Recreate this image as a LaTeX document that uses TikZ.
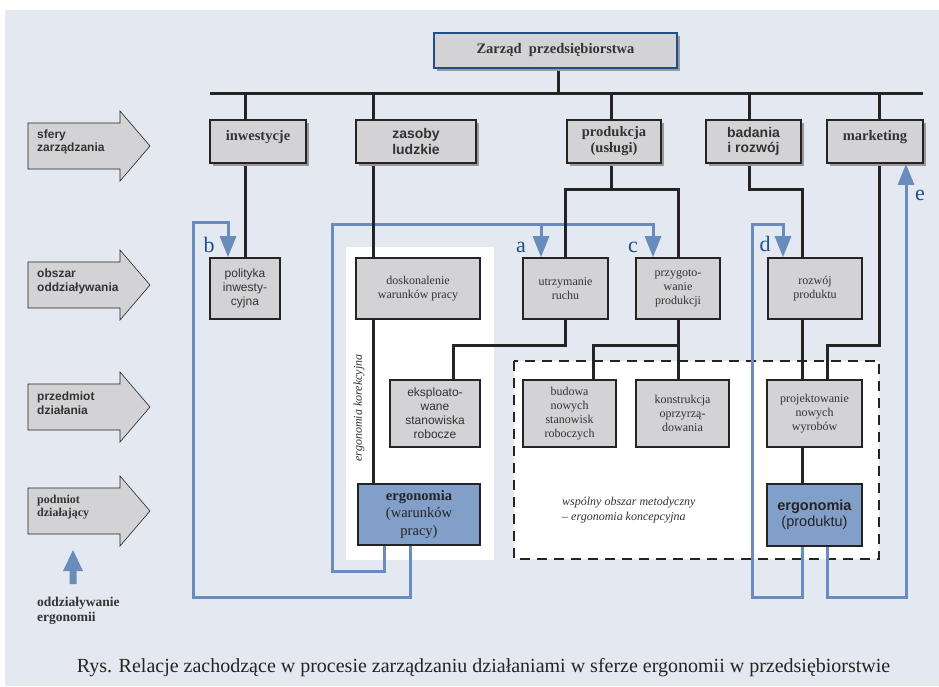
\documentclass[tikz,border=0pt]{standalone}
\usepackage{fontspec}
\setmainfont{Liberation Serif}
\setsansfont{Liberation Sans}
\usetikzlibrary{arrows.meta,shadows}

\definecolor{tlo}{HTML}{E4E8F0}
\definecolor{szary}{HTML}{D3D3D5}
\definecolor{ramka}{HTML}{262324}
\definecolor{granat}{HTML}{1F4F8A}
\definecolor{niebieski}{HTML}{6A8CBD}
\definecolor{ergo}{HTML}{829FC9}
\definecolor{litera}{HTML}{1D4F8E}
\definecolor{tekst}{HTML}{333333}

\pgfdeclarelayer{spod}
\pgfdeclarelayer{linie}
\pgfsetlayers{spod,linie,main}

\tikzset{
  sfera/.style={draw=ramka, fill=szary, line width=1.8pt, inner sep=0pt, align=center, text=tekst,
    drop shadow={shadow xshift=3pt, shadow yshift=-3pt, opacity=1, fill=black!40},
    minimum height=43pt, font=\fontsize{14.5}{16}\selectfont\bfseries},
  gora/.style={text depth=13pt},
  pole/.style={draw=ramka, fill=szary, line width=1.6pt, inner sep=0pt, align=center, text=tekst,
    font=\fontsize{12}{14}\selectfont},
  ergbox/.style={draw=ramka, fill=ergo, line width=1.8pt, inner sep=0pt, align=center, text=ramka,
    font=\fontsize{14.5}{17.5}\selectfont},
  rzad/.style={draw=ramka, line width=0.6pt, fill=szary},
  rzadopis/.style={anchor=west, align=left, text=tekst, inner sep=0pt,
    font=\fontsize{12}{13.5}\selectfont\sffamily\bfseries},
  polacz/.style={draw=ramka, line width=3pt},
  sprz/.style={draw=niebieski, line width=3pt},
  grot/.style={-{Triangle[length=21pt,width=16pt]}},
  litera/.style={text=litera, inner sep=0pt, font=\fontsize{22}{22}\selectfont},
}

\begin{document}
\begin{tikzpicture}[x=1pt,y=-1pt]
\useasboundingbox (0,0) rectangle (939,686);

% zarzad i sfery
\node[sfera, draw=granat, line width=2pt, minimum width=243pt, minimum height=35pt] (zarzad) at (555.5,50.5) {Zarząd\enspace przedsiębiorstwa};
\node[sfera, gora, minimum width=96pt] (inwest) at (258,141.5) {inwestycje};
\node[sfera, minimum width=120pt, font=\fontsize{14}{15.5}\selectfont\sffamily\bfseries] (zasoby) at (416,141.5) {zasoby\\ludzkie};
\node[sfera, minimum width=94pt] (produkcja) at (614,141.5) {produkcja\\(usługi)};
\node[sfera, minimum width=95pt, font=\fontsize{14}{15.5}\selectfont\sffamily\bfseries] (badania) at (753.5,141.5) {badania\\i rozwój};
\node[sfera, gora, minimum width=96pt] (marketing) at (875,141.5) {marketing};

% obszar oddzialywania
\node[pole, minimum width=70pt, minimum height=61pt, font=\fontsize{12}{14}\selectfont\sffamily] (polityka) at (245,288.5) {polityka\\inwesty-\\cyjna};
\node[pole, minimum width=124pt, minimum height=61pt] (doskon) at (418,288.5) {doskonalenie\\warunków pracy};
\node[pole, minimum width=85pt, minimum height=61pt] (utrzym) at (565.5,288.5) {utrzymanie\\ruchu};
\node[pole, minimum width=84pt, minimum height=61pt] (przyg) at (678,288.5) {przygoto-\\wanie\\produkcji};
\node[pole, minimum width=94pt, minimum height=61pt] (rozwoj) at (815,288.5) {rozwój\\produktu};

% przedmiot dzialania
\node[pole, minimum width=90pt, minimum height=67pt, font=\fontsize{12}{14}\selectfont\sffamily] (eksploat) at (435,413.5) {eksploato-\\wane\\stanowiska\\robocze};
\node[pole, minimum width=93pt, minimum height=67pt] (budowa) at (569.5,413.5) {budowa\\nowych\\stanowisk\\roboczych};
\node[pole, minimum width=93pt, minimum height=67pt] (konstr) at (682.5,413.5) {konstrukcja\\oprzyrzą-\\dowania};
\node[pole, minimum width=95pt, minimum height=67pt] (projekt) at (814.5,413.5) {projektowanie\\nowych\\wyrobów};

% podmiot
\node[ergbox, minimum width=122pt, minimum height=61pt] (ergwar) at (419,514.5) {\textbf{ergonomia}\\(warunków\\pracy)};
\node[ergbox, minimum width=95pt, minimum height=62pt, font=\fontsize{14.5}{16}\selectfont\sffamily] (ergprod) at (814.5,515) {\textbf{ergonomia}\\(produktu)};

\node[rotate=90, text=tekst, inner sep=0pt, font=\fontsize{12}{12}\selectfont\itshape] (korek) at (359,408) {ergonomia korekcyjna};
\node[anchor=west, align=left, text=tekst, inner sep=0pt, font=\fontsize{12}{15}\selectfont\itshape] (wspolny) at (562,510.5) {wspólny obszar metodyczny\\– ergonomia koncepcyjna};

% strzalki wierszy
\foreach \yc in {146,285,407,511}
  \filldraw[rzad] (28,\yc-23) -- ++(92,0) -- ++(0,-12) -- ++(30,35) -- ++(-30,35) -- ++(0,-12) -- ++(-92,0) -- cycle;
\node[rzadopis] (sferylbl) at (37,142) {sfery\\zarządzania};
\node[rzadopis, font=\fontsize{12}{14}\selectfont\sffamily\bfseries] (obszarlbl) at (37,281) {obszar\\oddziaływania};
\node[rzadopis] (przedlbl) at (37,403) {przedmiot\\działania};
\node[rzadopis, font=\fontsize{12}{13.5}\selectfont\bfseries] (podmlbl) at (37,507) {podmiot\\działający};
\fill[niebieski] (69.5,584) -- (69.5,571) -- (63,571) -- (73,550) -- (83,571) -- (76.5,571) -- (76.5,584) -- cycle;
\node[rzadopis, font=\fontsize{13.5}{15}\selectfont\bfseries] (oddzlbl) at (37,610.5) {oddziaływanie\\ergonomii};

\node[text=ramka, inner sep=0pt, font=\fontsize{20}{20}\selectfont] (podpis) at (483.5,668) {Rys. Relacje zachodzące w procesie zarządzaniu działaniami w sferze ergonomii w przedsiębiorstwie};

% litery
\node[litera] (la) at (521,247) {a};
\node[litera] (lb) at (209,245) {b};
\node[litera] (lc) at (633,247) {c};
\node[litera] (ld) at (765,244) {d};
\node[litera] (le) at (920,195) {e};

\coordinate (busL) at (210,93);
\coordinate (busR) at (923,93);
\coordinate (tapZarz) at (558,93);
\coordinate (tapI) at (245,93);
\coordinate (tapZ) at (373,93);
\coordinate (tapP) at (611,93);
\coordinate (tapB) at (749,93);
\coordinate (tapM) at (879,93);
\coordinate (forkP) at (611,189);
\coordinate (colR) at (802,189);
\coordinate (colM) at (827,345);
\coordinate (forkU) at (453,345);
\coordinate (forkB) at (593,345);
\coordinate (bLow) at (193,597);
\coordinate (bTop) at (228,222);
\coordinate (acLow) at (332,571);
\coordinate (acTop) at (541,224);
\coordinate (dLow) at (752,597);
\coordinate (dTop) at (783,224);
\coordinate (eLow) at (906,597);

\begin{pgfonlayer}{spod}
\fill[tlo] (5,10) rectangle (939,686);
\fill[white] (346,247) rectangle (494,560);
\draw[draw=ramka, fill=white, line width=2.5pt, dash pattern=on 10pt off 7pt] (514,361) rectangle (879,559);
\end{pgfonlayer}

\begin{pgfonlayer}{linie}
% oddzialywanie ergonomii
\draw[sprz, grot] ([xshift=-9pt]ergwar.south) |- (bLow) |- (bTop) -- (bTop |- polityka.north);
\draw[sprz, grot] ([xshift=-35pt]ergwar.south) |- (acLow) |- (acTop) -| ([xshift=-25pt]przyg.north);
\draw[sprz, grot] (acTop) -- (acTop |- utrzym.north);
\draw[sprz, grot] (colR |- ergprod.south) |- (dLow) |- (dTop) -- (dTop |- rozwoj.north);
\draw[sprz, grot] (colM |- ergprod.south) |- (eLow) -- (eLow |- marketing.south);

% struktura
\draw[polacz] (busL) -- (busR);
\draw[polacz] (tapZarz |- zarzad.south) -- (tapZarz);
\draw[polacz] (tapI) -- (tapI |- inwest.north);
\draw[polacz] (tapI |- inwest.south) -- (polityka.north);
\draw[polacz] (tapZ) -- (tapZ |- zasoby.north);
\draw[polacz] (tapZ |- zasoby.south) -- (tapZ |- doskon.north);
\draw[polacz] (tapZ |- doskon.south) -- (tapZ |- ergwar.north);
\draw[polacz] (tapP) -- (tapP |- produkcja.north);
\draw[polacz] (tapP |- produkcja.south) -- (forkP);
\draw[polacz] (utrzym.north) |- (forkP) -| (przyg.north);
\draw[polacz] (tapB) -- (tapB |- badania.north);
\draw[polacz] (tapB |- badania.south) |- (colR) -- (colR |- rozwoj.north);
\draw[polacz] (colR |- rozwoj.south) -- (colR |- projekt.north);
\draw[polacz] (colR |- projekt.south) -- (colR |- ergprod.north);
\draw[polacz] (tapM) -- (tapM |- marketing.north);
\draw[polacz] (tapM |- marketing.south) |- (colM) -- (colM |- projekt.north);
\draw[polacz] (utrzym.south) |- (forkU) -- (forkU |- eksploat.north);
\draw[polacz] (przyg.south) -- (przyg.south |- konstr.north);
\draw[polacz] (przyg.south |- forkB) -- (forkB) -- (forkB |- budowa.north);
\end{pgfonlayer}
\end{tikzpicture}
\end{document}
